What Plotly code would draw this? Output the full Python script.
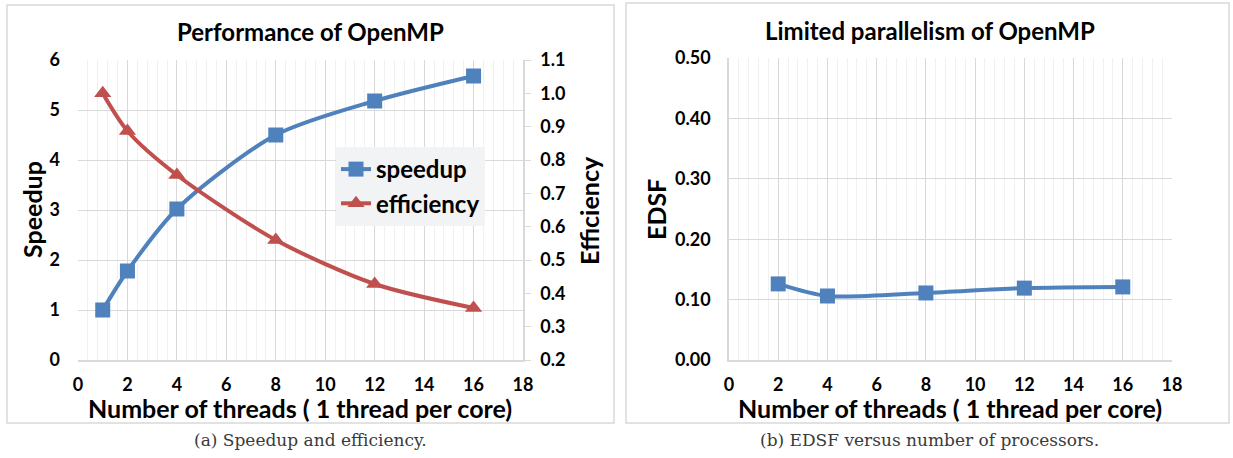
import plotly.graph_objects as go

threads = [1, 2, 4, 8, 12, 16]
speedup = [1.0, 1.78, 3.02, 4.50, 5.18, 5.68]
efficiency = [1.0, 0.887, 0.755, 0.56, 0.428, 0.356]

edsf_threads = [2, 4, 8, 12, 16]
edsf = [0.126, 0.106, 0.111, 0.119, 0.121]

BLUE = "#4F81BD"
RED = "#C0504D"
FONT = "Lato"
W, H = 1233, 458


def px(x):
    return x / W


def py(y):
    return 1 - y / H


fig = go.Figure()
fig.add_trace(go.Scatter(x=threads, y=speedup, name="speedup", mode="lines+markers",
                         line=dict(color=BLUE, width=4, shape="spline", smoothing=0.8),
                         marker=dict(symbol="square", size=15, color=BLUE),
                         xaxis="x", yaxis="y"))
fig.add_trace(go.Scatter(x=threads, y=efficiency, name="efficiency", mode="lines+markers",
                         line=dict(color=RED, width=4, shape="spline", smoothing=0.8),
                         marker=dict(symbol="triangle-up", size=15, color=RED),
                         xaxis="x", yaxis="y2"))
fig.add_trace(go.Scatter(x=edsf_threads, y=edsf, name="EDSF", mode="lines+markers",
                         line=dict(color=BLUE, width=4, shape="spline", smoothing=0.8),
                         marker=dict(symbol="square", size=15, color=BLUE),
                         xaxis="x2", yaxis="y3", showlegend=False))

tickfont = dict(family=FONT, size=18, color="black", weight="bold")
titlefont = dict(family=FONT, size=25, color="black", weight="bold")
grid = "#d9d9d9"
minor = dict(dtick=0.4, showgrid=True, gridcolor="#f0f0f0", gridwidth=1, ticks="")

fig.update_layout(
    width=W, height=H, margin=dict(l=0, r=0, t=0, b=0),
    plot_bgcolor="white", paper_bgcolor="white",
    xaxis=dict(domain=[px(78), px(523)], range=[0, 18], dtick=2, tick0=0,
               showgrid=True, gridcolor=grid, minor=minor,
               showline=True, linecolor=grid, linewidth=1.5, zeroline=False,
               tickfont=tickfont, ticks="", anchor="y", ticklabelstandoff=8, automargin=False),
    yaxis=dict(domain=[py(360), py(60)], range=[0, 6], dtick=1,
               showgrid=True, gridcolor=grid, zeroline=False, showline=False,
               tickfont=tickfont, ticks="", anchor="x", ticklabelstandoff=17, automargin=False),
    yaxis2=dict(overlaying="y", side="right", range=[0.2, 1.1], dtick=0.1, tickformat=".1f",
                showgrid=False, zeroline=False, showline=True, linecolor=grid, linewidth=1.5,
                ticks="outside", ticklen=6, tickcolor=grid, ticklabelstandoff=6, automargin=False,
                tickfont=tickfont, anchor="x"),
    xaxis2=dict(domain=[px(729), px(1172)], range=[0, 18], dtick=2, tick0=0,
                showgrid=True, gridcolor=grid, minor=minor,
                showline=True, linecolor=grid, linewidth=1.5, zeroline=False,
                tickfont=tickfont, ticks="", anchor="y3", ticklabelstandoff=8, automargin=False),
    yaxis3=dict(domain=[py(360), py(58)], range=[0, 0.5], dtick=0.1, tickformat=".2f",
                showgrid=True, gridcolor=grid, zeroline=False, showline=True, linecolor=grid,
                linewidth=1.5, tickfont=tickfont, ticks="", anchor="x2", ticklabelstandoff=13,
                automargin=False),
    legend=dict(x=px(336), y=py(147), xanchor="left", yanchor="top",
                bgcolor="#f2f3f5", borderwidth=0,
                font=dict(family=FONT, size=24, color="black", weight="bold"),
                itemwidth=30, tracegroupgap=0),
    showlegend=True,
)

# panel frames
fig.add_shape(type="rect", xref="paper", yref="paper", x0=px(7), x1=px(614), y0=py(423), y1=py(5),
              line=dict(color="#d9d9d9", width=1.5), fillcolor="rgba(0,0,0,0)", layer="below")
fig.add_shape(type="rect", xref="paper", yref="paper", x0=px(626), x1=px(1229), y0=py(423), y1=py(3),
              line=dict(color="#d9d9d9", width=1.5), fillcolor="rgba(0,0,0,0)", layer="below")


def note(text, x, y, font, angle=0):
    fig.add_annotation(text=text, xref="paper", yref="paper", x=px(x), y=py(y),
                       xanchor="center", yanchor="middle", textangle=angle,
                       showarrow=False, font=font)


big = dict(family=FONT, size=24, color="black", weight="bold")
note("Performance of OpenMP", 310, 32, big)
note("Limited parallelism of OpenMP", 930, 30, big)
note("Number of threads ( 1 thread per core)", 300, 408, titlefont)
note("Number of threads ( 1 thread per core)", 950, 408, titlefont)
note("Speedup", 32, 210, titlefont, -90)
note("Efficiency", 589, 211, titlefont, -90)
note("EDSF", 656, 210, titlefont, -90)

cap = dict(family="DejaVu Serif", size=17, color="#3a3a3a")
note("(a) Speedup and efficiency.", 310, 440, cap)
note("(b) EDSF versus number of processors.", 929, 440, cap)

fig.write_html("out.html")
